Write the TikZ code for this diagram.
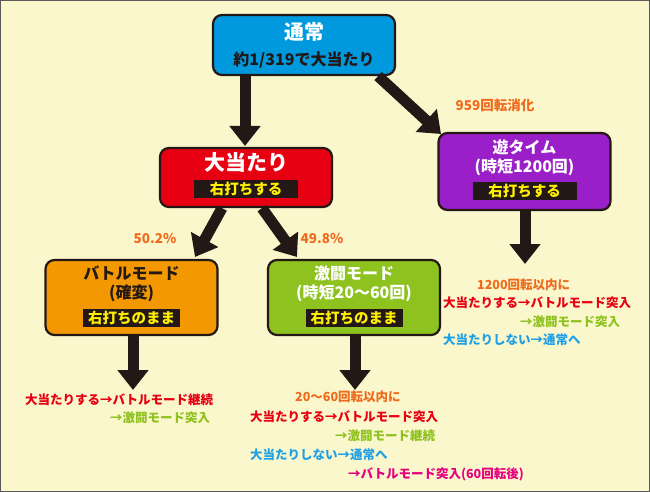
\documentclass[tikz,border=0pt]{standalone}
\usepackage{fontspec}
\newfontfamily\jp{Noto Sans CJK JP}
\usetikzlibrary{arrows.meta}
\definecolor{bg}{HTML}{FBF7CC}
\definecolor{cblue}{HTML}{0099DD}
\definecolor{cred}{HTML}{E60012}
\definecolor{cpur}{HTML}{9B1FC8}
\definecolor{cora}{HTML}{F39800}
\definecolor{cgrn}{HTML}{8DC21F}
\definecolor{tor}{HTML}{F06A1E}
\definecolor{tbl}{HTML}{1EA0E6}
\definecolor{tmg}{HTML}{E4007F}
\definecolor{dk}{HTML}{231815}
\definecolor{yl}{HTML}{FFF000}
\begin{document}
\begin{tikzpicture}[x=1pt,y=-1pt,font=\jp\bfseries,
 box/.style={draw=dk,line width=2.2pt,rounded corners=9pt,minimum width=172pt,align=center,inner sep=0pt},
 strip/.style={fill=dk,text=yl,font=\jp\bfseries\fontsize{14.5}{15}\selectfont,inner xsep=5pt,inner ysep=2pt},
 arr/.style={draw=dk,line width=11pt,-{Triangle[length=20pt,width=30pt]}},
 t/.style={anchor=west,inner sep=0pt,font=\jp\bfseries\fontsize{12.5}{13}\selectfont},
 lab/.style={text=tor,inner sep=0pt,font=\jp\bfseries\fontsize{13.5}{14}\selectfont},
 ttl/.style={font=\jp\bfseries\fontsize{16}{19}\selectfont,align=center}]
\fill[bg,draw=gray!70!black,line width=1pt] (0.5,0.5) rectangle (649.5,491.5);
\useasboundingbox (0,0) rectangle (650,492);
\node[box,fill=cblue,minimum height=60pt,minimum width=182pt] (n) at (304,45) {};
\node[text=white,font=\jp\bfseries\fontsize{20}{21}\selectfont] (nt) at (304,32) {通常};
\node[text=dk,font=\jp\bfseries\fontsize{16}{17}\selectfont] (ns) at (304,60) {約1/319で大当たり};
\node[box,fill=cred,minimum height=59pt] (a) at (246,177.5) {};
\node[text=white,font=\jp\bfseries\fontsize{21}{22}\selectfont] (at) at (246,163) {大当たり};
\node[strip,minimum width=104pt] (as) at (246,189) {右打ちする};
\node[box,fill=cpur,minimum height=77pt] (y) at (524.5,171.5) {};
\node[ttl,text=white] (yt) at (524.5,158) {遊タイム\\(時短1200回)};
\node[strip,minimum width=104pt] (ys) at (524.5,191) {右打ちする};
\node[box,fill=cora,minimum height=75pt] (b) at (131.5,297.5) {};
\node[ttl,text=dk] (bt) at (131.5,284) {バトルモード\\(確変)};
\node[strip] (bs) at (131.5,318) {右打ちのまま};
\node[box,fill=cgrn,minimum height=75pt] (g) at (354,297.5) {};
\node[ttl,text=white] (gt) at (354,284) {激闘モード\\(時短20〜60回)};
\node[strip] (gs) at (354,318) {右打ちのまま};
\coordinate (e1) at (245,146);
\coordinate (e2) at (441,134);
\coordinate (e3) at (195,257);
\coordinate (e4) at (297,257);
\coordinate (e5) at (525,264);
\coordinate (e6) at (133,390);
\coordinate (e7) at (355,390);
\draw[arr] (n.south -| e1) -- (e1);
\draw[arr] ([xshift=-18pt]n.south east) -- (e2);
\draw[arr] ([xshift=-24pt]a.south) -- (e3);
\draw[arr] ([xshift=16pt]a.south) -- (e4);
\draw[arr] (y.south -| e5) -- (e5);
\draw[arr] (b.south -| e6) -- (e6);
\draw[arr] (g.south -| e7) -- (e7);
\node[lab] (l1) at (495,105) {959回転消化};
\node[lab] (l2) at (155,238) {50.2\%};
\node[lab] (l3) at (322,238) {49.8\%};
\node[t,text=tor] (r1) at (477,285) {1200回転以内に};
\node[t,text=cred] (r2) at (443,303) {大当たりする→バトルモード突入};
\node[t,text=cgrn] (r3) at (520,322) {→激闘モード突入};
\node[t,text=tbl] (r4) at (443,340) {大当たりしない→通常へ};
\node[t,text=cred] (p1) at (25,400) {大当たりする→バトルモード継続};
\node[t,text=cgrn] (p2) at (110,418) {→激闘モード突入};
\node[t,text=tor] (m1) at (295,397) {20〜60回転以内に};
\node[t,text=cred] (m2) at (250,417) {大当たりする→バトルモード突入};
\node[t,text=cgrn] (m3) at (335,436) {→激闘モード継続};
\node[t,text=tbl] (m4) at (250,455) {大当たりしない→通常へ};
\node[t,text=tmg] (m5) at (348,474) {→バトルモード突入(60回転後)};
\end{tikzpicture}
\end{document}
